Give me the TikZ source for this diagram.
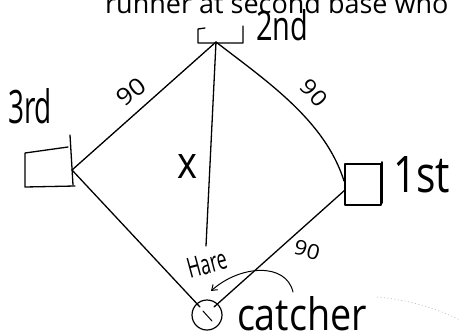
\documentclass[tikz,border=0pt]{standalone}
\usepackage{fontspec}
\usepackage{graphicx}
\setmainfont{Open Sans}
\usetikzlibrary{arrows.meta}
\begin{document}
\begin{tikzpicture}[x=1pt,y=-1pt,
  ink/.style={draw=black,line width=1.3pt,line cap=round,line join=round},
  hw/.style={inner sep=0pt,outer sep=0pt,font=\fontsize{20}{20}\selectfont}]
\useasboundingbox (0,0) rectangle (460,335);
% top printed text (cut off)
\node[anchor=base west,inner sep=0pt,font=\fontsize{27}{27}\selectfont] (title) at (105,13) {runner at second base who};
% bases
\draw[ink] (205,28) -- (198,29) -- (198,43) -- (243,43) -- (243,26);
\draw[ink] (68,147) -- (25,153) -- (25,187) -- (75,186);
\draw[ink] (70,135) -- (73,185);
\draw[ink] (345,164) rectangle (381,205);
\draw[ink,line width=1.8pt] (382,162) -- (382,203);
\node[circle,draw,line width=1.2pt,minimum size=30pt,inner sep=0pt] (home) at (207,315) {};
\draw[ink,line width=1pt] (203,311) -- (212,321);
% named corners
\coordinate (b2) at (216,42);
\coordinate (b3) at (72,170);
\coordinate (b1a) at (344,181);
\coordinate (b1b) at (345,190);
\coordinate (h3) at (200,307);
\coordinate (h1) at (214,307);
\coordinate (xend) at (206,246);
% base paths
\draw[ink] (b2) -- (b3);
\draw[ink] (b2) .. controls (265,80) and (325,120) .. (b1a);
\draw[ink] (b3) -- (h3);
\draw[ink] (h1) -- (b1b);
\draw[ink] (b2) -- (xend);
% arrow
\coordinate (as) at (293,292);
\coordinate (ae) at (211,291);
\draw[ink,line width=1pt,-{Straight Barb[length=5pt,width=7pt]}] (as) .. controls (286,262) and (240,265) .. (ae);
% faint dotted scan mark
\draw[gray!55,line width=0.6pt,dash pattern=on 1pt off 2.5pt] (377,297) .. controls (410,300) and (435,308) .. (460,320);
% labels
\node[hw,anchor=base west] (l2) at (256,40) {\resizebox{52pt}{31pt}{2nd}};
\node[hw,anchor=base west] (l3) at (8,123) {\resizebox{44pt}{35pt}{3rd}};
\node[hw,anchor=base west] (l1) at (393,192) {\resizebox{57pt}{36pt}{1st}};
\node[hw,anchor=base west] (lx) at (177,178) {\resizebox{20pt}{24pt}{x}};
\node[hw,anchor=base west] (lc) at (237,330) {\resizebox{130pt}{34pt}{catcher}};
\node[hw,rotate=15] (lh) at (207,264) {\resizebox{40pt}{20pt}{Hare}};
\node[hw,rotate=38] (n3) at (131,92) {\resizebox{30pt}{17pt}{90}};
\node[hw,rotate=-48] (n1) at (314,93) {\resizebox{28pt}{16pt}{90}};
\node[hw,rotate=-15] (nh) at (307,250) {\resizebox{26pt}{15pt}{90}};
\end{tikzpicture}
\end{document}
